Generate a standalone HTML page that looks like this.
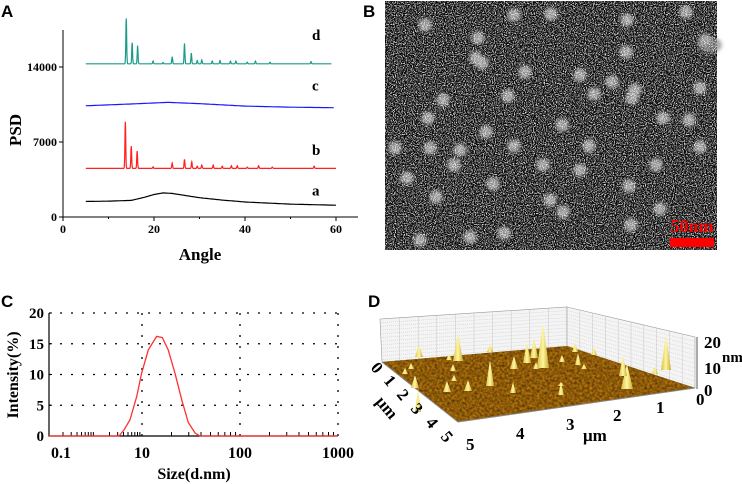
<!DOCTYPE html>
<html><head><meta charset="utf-8"><style>
html,body{margin:0;padding:0;background:#fff;}
body{width:742px;height:484px;overflow:hidden;position:relative;font-family:"Liberation Serif",serif;}
svg{position:absolute;left:0;top:0;}
filter{color-interpolation-filters:sRGB;}
.pl{font-family:"Liberation Sans",sans-serif;font-weight:bold;font-size:17px;}
.tk{font-family:"Liberation Serif",serif;font-weight:bold;}
</style></head><body>
<svg id="fig" width="742" height="484" viewBox="0 0 742 484">
<defs>
<filter id="speck" x="0" y="0" width="100%" height="100%" color-interpolation-filters="sRGB">
<feTurbulence type="fractalNoise" baseFrequency="0.9" numOctaves="2" seed="4" result="n"/>
<feColorMatrix in="n" type="matrix" values="0 0 0 0 1  0 0 0 0 1  0 0 0 0 1  4.5 0 0 0 -2.05"/>
</filter>
<filter id="fz" x="-50%" y="-50%" width="200%" height="200%" color-interpolation-filters="sRGB"><feGaussianBlur stdDeviation="1.8"/></filter>
<filter id="ground" x="0" y="0" width="100%" height="100%" color-interpolation-filters="sRGB">
<feTurbulence type="fractalNoise" baseFrequency="0.4" numOctaves="2" seed="7" result="n"/>
<feColorMatrix in="n" type="matrix" values="0.8 0 0 0 0.15  0.55 0 0 0 0.08  0 0 0 0 0.04  0 0 0 0 1" result="c"/>
<feComposite in="c" in2="SourceGraphic" operator="in"/>
</filter>
<linearGradient id="pk" x1="0" y1="0" x2="1" y2="0"><stop offset="0" stop-color="#d8c040"/><stop offset="0.5" stop-color="#fff6a0"/><stop offset="1" stop-color="#c8a830"/></linearGradient>
</defs>

<text class="pl" x="1" y="17">A</text>
<text class="pl" x="363" y="17">B</text>
<text class="pl" x="1" y="307">C</text>
<text class="pl" x="368" y="307">D</text>

<g id="chartA"></g>

<g>
<rect x="385" y="1" width="332" height="249" fill="#050505"/>
<g id="blobs" filter="url(#fz)"></g>
<rect x="385" y="1" width="332" height="249" fill="#fff" filter="url(#speck)" opacity="0.85"/>
<text x="692" y="232" text-anchor="middle" font-family="Liberation Serif" font-weight="bold" font-size="18" fill="#ff0000">50nm</text>
<rect x="670" y="238" width="44" height="9" fill="#ff0000"/>
</g>

<g id="chartC"></g>

<g id="chartD">
<polygon points="380,319 567,307 567,348 382,362" fill="#f4f4f4" stroke="#999" stroke-width="0.6"/>
<polygon points="567,307 695,337 695,388 567,348" fill="#f4f4f4" stroke="#999" stroke-width="0.6"/>
<g id="dgrid"></g>
<polygon points="382,362 567,346 695,388 458,422" fill="#8a5808"/>
<polygon points="382,362 567,346 695,388 458,422" fill="#fff" filter="url(#ground)" opacity="0.8"/>
<polyline points="382,362 458,422 695,388" fill="none" stroke="#888" stroke-width="1"/>
<g id="peaks"></g>
<g class="tk">
<line x1="697" y1="337" x2="697" y2="389" stroke="#555"/>
<text x="704" y="348" style="font-size:17px">20</text><text x="704" y="374" style="font-size:17px">10</text><text x="704" y="396" style="font-size:17px">0</text>
<text x="722" y="362" style="font-size:15px">nm</text>
</g>
<g class="tk" style="font-size:17px">
<text x="696" y="405">0</text><text x="656" y="413">1</text><text x="613" y="421">2</text><text x="566" y="430">3</text><text x="516" y="439">4</text><text x="466" y="450">5</text>
<text x="583" y="441">μm</text>
</g>
<g class="tk" style="font-size:17px">
<text transform="translate(370,368) rotate(50)">0</text>
<text transform="translate(383,381) rotate(50)">1</text>
<text transform="translate(396,395) rotate(50)">2</text>
<text transform="translate(410,409) rotate(50)">3</text>
<text transform="translate(425,423) rotate(50)">4</text>
<text transform="translate(440,437) rotate(50)">5</text>
<text transform="translate(375,402) rotate(50)">μm</text>
</g>
</g>
</svg>
<script>
const NS="http://www.w3.org/2000/svg";
function mk(parent,tag,attrs,txt){const e=document.createElementNS(NS,tag);for(const k in attrs)e.setAttribute(k,attrs[k]);if(txt!==undefined)e.textContent=txt;parent.appendChild(e);return e;}

// ---------- Panel A data ----------
const xTicksA=[0,20,40,60];
const yTicksA=[0,7000,14000];
const curveA=[[5,1450],[10,1480],[15,1550],[18,1850],[20,2100],[22,2250],[24,2200],[27,2000],[30,1800],[35,1580],[40,1400],[50,1200],[60,1100]];
const curveC=[[5,10380],[15,10550],[23,10700],[30,10580],[40,10350],[50,10250],[59.5,10200]];
const baseB=4540;
const peaksB=[[13.7,4350],[15,2080],[16.3,1610],[19.8,150],[24,480],[26.7,850],[28.3,600],[29.5,200],[30.5,300],[33,300],[35,200],[37,250],[38.3,250],[40.5,120],[43,250],[46,120],[55.2,200]];
const baseD=14300;
const peaksD=[[13.9,4240],[15.2,1970],[16.4,1690],[19.8,250],[22,120],[24,650],[26.7,1900],[28.2,1000],[29.5,300],[30.5,350],[32.8,250],[34.5,300],[36.8,250],[38,250],[40.5,150],[42.3,250],[45.5,150],[54.5,200]];
const labelsA=[["d",16500],["c",11800],["b",5800],["a",2000]];

const xA=v=>63+v*(273/60);
const yA=v=>217-v*(150/14000);
const gA=document.getElementById('chartA');
let ax=mk(gA,'path',{d:'M63,217V30 M63,217H358',stroke:'#000','stroke-width':1,fill:'none'});

for(const t of xTicksA){mk(gA,'line',{x1:xA(t),x2:xA(t),y1:217,y2:221,stroke:'#000'});
 const tx=mk(gA,'text',{x:xA(t),y:233,'text-anchor':'middle',class:'tk',style:'font-size:12px'},String(t));
 }
for(const t of [10,30,50])mk(gA,'line',{x1:xA(t),x2:xA(t),y1:217,y2:219,stroke:'#000'});
for(const t of yTicksA){mk(gA,'line',{x1:59,x2:63,y1:yA(t),y2:yA(t),stroke:'#000'});
 const tx=mk(gA,'text',{x:57,y:yA(t)+4,'text-anchor':'end',class:'tk',style:'font-size:12px'},String(t));
 }
let at=mk(gA,'text',{x:200,y:260,'text-anchor':'middle','font-weight':'bold','font-size':17},'Angle');

let yt=mk(gA,'text',{transform:'translate(21,130) rotate(-90)','text-anchor':'middle','font-weight':'bold','font-size':17},'PSD');

function interp(pts,x){for(let i=1;i<pts.length;i++){if(x<=pts[i][0]){const a=pts[i-1],b=pts[i];return a[1]+(b[1]-a[1])*(x-a[0])/(b[0]-a[0]);}}return pts[pts.length-1][1];}
function drawLine(pts,color,name){const p=mk(gA,'polyline',{points:pts.map(q=>xA(q[0]).toFixed(1)+','+yA(q[1]).toFixed(1)).join(' '),fill:'none',stroke:color,'stroke-width':1.2});
 }
function smooth(pts){const out=[];for(let x=pts[0][0];x<=pts[pts.length-1][0];x+=0.25)out.push([x,interp(pts,x)]);return out;}
function peaky(base,peaks,x0,x1){const out=[];for(let x=x0;x<=x1;x+=0.05){let v=base;for(const p of peaks)v+=p[1]*Math.exp(-((x-p[0])**2)/(2*0.09*0.09));out.push([x,v]);}return out;}
drawLine(smooth(curveA),'#000','series-a');
drawLine(peaky(baseB,peaksB,5,60),'#ff2020','series-b');
drawLine(smooth(curveC),'#1a1aff','series-c');
drawLine(peaky(baseD,peaksD,5,59),'#1a9a8a','series-d');
for(const l of labelsA){const t=mk(gA,'text',{x:312,y:yA(l[1]),'font-weight':'bold','font-size':15},l[0]);
 }

// ---------- Panel B blobs ----------
const blobs=[[514,15],[551,14],[627,20],[425,25],[478,38],[626,52],[476,58],[482,63],[580,75],[635,90],[525,72],[508,96],[612,82],[443,100],[632,98],[594,94],[663,118],[428,118],[562,125],[486,132],[689,120],[430,148],[460,150],[514,146],[589,146],[580,170],[543,165],[395,148],[550,200],[454,165],[407,178],[436,197],[493,184],[629,186],[563,212],[660,209],[504,233],[470,237],[631,225],[420,240],[700,88],[700,147],[656,165],[705,40],[686,12]];
const gB=document.getElementById('blobs');
for(const b of blobs){const c=mk(gB,'circle',{cx:b[0],cy:b[1],r:6.5,fill:'#a0a0a0',opacity:0.9});
 }
mk(gB,'ellipse',{cx:710,cy:45,rx:12,ry:8,fill:'#888',opacity:0.7});

// ---------- Panel C data ----------
const sizesC=[3.2,4.1,5.5,7.7,9.8,11.6,14.1,16.1,18.5,21.7,25.4,29.7,34.7,39];
const intensC=[0,1,2.6,6.4,10.2,14,16.2,16,14,10.2,5.9,2.2,0.5,0];
const xTicksC=[0.1,10,100,1000];
const yTicksC=[0,5,10,15,20];
const gC=document.getElementById('chartC');
function xC(v){const l=Math.log10(v);if(l<1)return 49+(l+1)*46.5;return 142+(l-1)*98;}
const yC=v=>436-v*6.15;
for(const t of yTicksC){if(t>0){const g=mk(gC,'line',{x1:49,x2:338,y1:yC(t),y2:yC(t),stroke:'#000','stroke-dasharray':'2 9','stroke-width':1.3});
 }
 mk(gC,'line',{x1:49,x2:52,y1:yC(t),y2:yC(t),stroke:'#000'});
 const tx=mk(gC,'text',{x:44,y:yC(t)+5,'text-anchor':'end',class:'tk',style:'font-size:15px'},String(t));
 }
for(const t of [10,100,1000]){const g=mk(gC,'line',{x1:xC(t),x2:xC(t),y1:313,y2:436,stroke:'#000','stroke-dasharray':'2 9','stroke-width':1.3});
 }
mk(gC,'path',{d:'M49,313V436H338',stroke:'#000',fill:'none','stroke-width':1.2});
for(let d=1;d<4;d++)for(let m=2;m<=9;m++){const v=m*Math.pow(10,d-1);mk(gC,'line',{x1:xC(v),x2:xC(v),y1:436,y2:432,stroke:'#000'});}
for(let m=2;m<=9;m++){const v=m*0.1;const px=49+(Math.log10(v)+1)*46.5;mk(gC,'line',{x1:px,x2:px,y1:436,y2:432,stroke:'#000'});}
for(const t of xTicksC){const tx=mk(gC,'text',{x:t===0.1?61:xC(t),y:458,'text-anchor':'middle',class:'tk',style:'font-size:16px'},String(t));
 }
let ct=mk(gC,'text',{x:194,y:479,'text-anchor':'middle','font-weight':'bold','font-size':16},'Size(d.nm)');

let cy=mk(gC,'text',{transform:'translate(18,375) rotate(-90)','text-anchor':'middle','font-weight':'bold','font-size':16},'Intensity(%)');

const ptsC=[[49,436]];for(let i=0;i<sizesC.length;i++)ptsC.push([xC(sizesC[i]),yC(intensC[i])]);ptsC.push([338,436]);
const lc=mk(gC,'polyline',{points:ptsC.map(p=>p[0].toFixed(1)+','+p[1].toFixed(1)).join(' '),fill:'none',stroke:'#ff3030','stroke-width':1.3});


// ---------- Panel D grid & peaks ----------
const gD=document.getElementById('dgrid');
for(let i=1;i<12;i++){const y=319+i*3.7,y2=307+i*3.5;mk(gD,'line',{x1:381,y1:y,x2:567,y2:y2,stroke:'#bbb','stroke-width':0.4,'stroke-dasharray':'1 1'});mk(gD,'line',{x1:567,y1:y2,x2:695,y2:337+i*4.4,stroke:'#bbb','stroke-width':0.4,'stroke-dasharray':'1 1'});}
for(let i=1;i<10;i++){const x=381+i*18.6;mk(gD,'line',{x1:x,y1:319-i*1.2,x2:x,y2:362-i*1.6,stroke:'#bbb','stroke-width':0.4});const x2=567+i*12.8;mk(gD,'line',{x1:x2,y1:307+i*3,x2:x2,y2:348+i*4,stroke:'#bbb','stroke-width':0.4});}
const peaksDx=[[458,361,28,5],[543,368,45,6],[666,370,35,5],[627,389,25,6],[623,376,21,4],[411,369,6,3],[419,357,12,4],[527,363,21,4],[534,358,20,4],[514,369,13,4],[490,386,26,4],[468,391,11,4],[447,392,11,4],[453,371,7,3],[415,388,13,4],[454,381,6,3],[405,374,6,3],[578,365,12,3],[655,374,8,3],[594,355,8,3],[575,352,10,3],[490,352,8,3],[584,369,5,3],[449,360,6,3],[418,412,23,3],[513,393,11,3],[561,395,12,3],[536,369,7,3],[562,362,7,3],[561,386,4,3]];
const gP=document.getElementById('peaks');
for(const p of peaksDx){const t=mk(gP,'polygon',{points:`${p[0]-p[3]},${p[1]} ${p[0]},${p[1]-p[2]} ${p[0]+p[3]},${p[1]}`,fill:'url(#pk)'});
 }
</script>
</body></html>
